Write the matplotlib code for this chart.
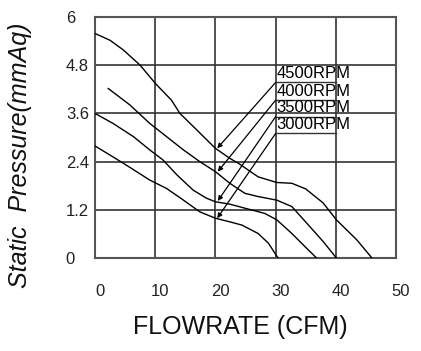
import numpy as np
import matplotlib
matplotlib.use("Agg")
import matplotlib.pyplot as plt
import matplotlib.transforms as mtransforms

# Fan curves (flow in CFM, static pressure in mmAq)
cfm_4500 = [0, 2.5, 4.7, 7.5, 10, 12.7, 14.1, 16.9, 20, 22.4, 23.8, 27.1, 30.2, 32.7, 35.0, 37.9, 40.1, 43.5, 46]
p_4500 = [5.59, 5.42, 5.18, 4.80, 4.35, 3.93, 3.60, 3.19, 2.73, 2.48, 2.36, 2.02, 1.88, 1.86, 1.72, 1.37, 0.95, 0.45, 0]

cfm_4000 = [2.2, 5.8, 9.1, 11.9, 14.7, 17.4, 20, 22.4, 24.9, 27.1, 30.2, 32.7, 35.7, 37.9, 40.1]
p_4000 = [4.22, 3.81, 3.35, 3.02, 2.69, 2.40, 2.15, 1.86, 1.61, 1.53, 1.44, 1.28, 0.78, 0.41, 0]

cfm_3500 = [0, 3, 6.4, 9.1, 11.3, 13.6, 16.3, 18.5, 20, 22.4, 24.9, 28.2, 30.2, 32.7, 34.9, 36.8]
p_3500 = [3.60, 3.35, 3.02, 2.69, 2.44, 2.07, 1.69, 1.49, 1.40, 1.34, 1.24, 1.11, 0.95, 0.61, 0.28, 0]

cfm_3000 = [0, 4.7, 9.1, 11.9, 14.7, 17.4, 20, 22.4, 24.4, 27.1, 28.8, 30.4]
p_3000 = [2.79, 2.36, 1.94, 1.73, 1.44, 1.15, 0.99, 0.90, 0.82, 0.61, 0.37, 0]

labels = ["4500RPM", "4000RPM", "3500RPM", "3000RPM"]
label_p = [4.37, 3.93, 3.52, 3.10]      # underline heights
arrow_tip = [(20.3, 2.73), (20.4, 2.15), (20.4, 1.42), (20.3, 0.99)]

xticks = [0, 10, 20, 30, 40, 50]
yticks = [0, 1.2, 2.4, 3.6, 4.8, 6]
ytick_labels = ["0", "1.2", "2.4", "3.6", "4.8", "6"]

plt.rcParams["font.family"] = ["Liberation Sans", "DejaVu Sans"]

fig = plt.figure(figsize=(4.21, 3.51), dpi=100)
ax = fig.add_axes([95 / 421, 1 - 258 / 351, 301 / 421, 241 / 351])

for x, y in [(cfm_4500, p_4500), (cfm_4000, p_4000), (cfm_3500, p_3500), (cfm_3000, p_3000)]:
    ax.plot(x, y, color="black", lw=1.0, zorder=3)

# labels with underline and arrow pointing to each curve
for lab, py, tip in zip(labels, label_p, arrow_tip):
    ax.plot([30, 40], [py, py], color="#333333", lw=1.0, zorder=2)
    ax.text(30.2, py + 0.04, lab, fontsize=12, ha="left", va="bottom", zorder=4)
    ax.annotate("", xy=tip, xytext=(30, py),
                arrowprops=dict(arrowstyle="-|>", color="black", lw=0.9,
                                mutation_scale=7, shrinkA=0, shrinkB=0))

ax.set_xlim(0, 50)
ax.set_ylim(0, 6)
ax.set_xticks(xticks)
ax.set_yticks(yticks)
ax.set_yticklabels(ytick_labels)
ax.grid(True, color="#333333", lw=1.2)
ax.set_axisbelow(True)
for s in ax.spines.values():
    s.set_color("#555555")
    s.set_linewidth(1.5)

ax.tick_params(axis="both", length=0, labelsize=12, colors="#222222")
ax.tick_params(axis="x", pad=19)
ax.tick_params(axis="y", pad=21)
for t in ax.get_yticklabels():
    t.set_ha("left")
shift = mtransforms.ScaledTranslation(5 / 100, 0, fig.dpi_scale_trans)
for t in ax.get_xticklabels():
    t.set_transform(t.get_transform() + shift)

fig.text(240 / 421, 1 - 327 / 351, "FLOWRATE (CFM)", fontsize=18,
         ha="center", va="center", color="#111111")
fig.text(20 / 421, 1 - 155 / 351, "Static  Pressure(mmAq)", fontsize=18,
         style="italic", rotation=90, ha="center", va="center", color="#111111")

fig.savefig("out.png", dpi=100)
